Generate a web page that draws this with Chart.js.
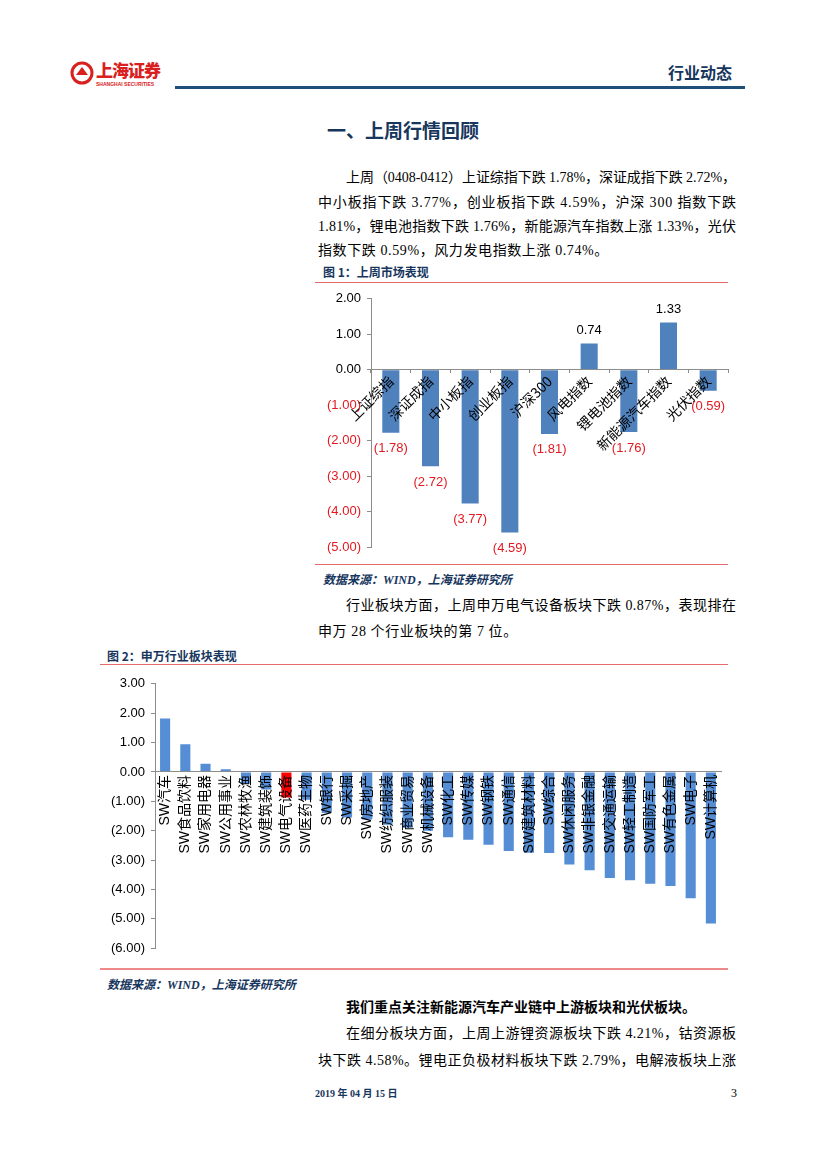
<!DOCTYPE html>
<html>
<head>
<meta charset="utf-8">
<script src="https://cdn.jsdelivr.net/npm/chart.js@4.4.0/dist/chart.umd.min.js"></script>
<style>
  html,body{margin:0;padding:0;background:#fff;}
  body{width:827px;height:1169px;position:relative;overflow:hidden;font-family:"Liberation Serif","Noto Sans CJK SC",serif;color:#000;}
  .abs{position:absolute;white-space:nowrap;}
  .line{position:absolute;font-size:14px;line-height:20px;height:20px;white-space:nowrap;}
  .navy{color:#17365D;}
  .rule{position:absolute;height:1px;background:#E46C6C;}
  .ctitle{position:absolute;font-family:"Noto Sans CJK SC";font-weight:bold;font-size:12px;color:#17365D;line-height:14px;}
  .src{position:absolute;font-family:"Liberation Serif","Noto Sans CJK SC";font-weight:bold;font-style:italic;font-size:12px;color:#17365D;line-height:14px;}
  canvas{position:absolute;}
</style>
</head>
<body>
<!-- header -->
<svg class="abs" style="left:70px;top:61px" width="24" height="24" viewBox="0 0 24 24">
  <circle cx="12" cy="12" r="10" fill="none" stroke="#D9201E" stroke-width="3"/>
  <path d="M6 14 L12 6 L18 14 Z" fill="#D9201E"/>
</svg>
<div class="abs" style="left:96px;top:60px;font-family:'Noto Sans CJK SC';font-weight:900;font-size:17px;color:#D9201E;letter-spacing:-1px;line-height:20px;">上海证券</div>
<div class="abs" style="left:96px;top:81px;font-family:'Liberation Sans';font-weight:bold;font-size:5px;color:#D9201E;line-height:6px;">SHANGHAI SECURITIES</div>
<div class="abs" style="left:668px;top:61px;font-family:'Noto Sans CJK SC';font-weight:bold;font-size:16px;color:#17365D;line-height:22px;">行业动态</div>
<div class="abs" style="left:175px;top:86px;width:570px;height:3px;background:#1F4E79;"></div>

<div class="abs navy" style="left:327px;top:117px;font-family:'Noto Sans CJK SC';font-weight:bold;font-size:19px;line-height:26px;">一、上周行情回顾</div>

<div class="line jl" data-w="390" style="left:346px;top:168px;">上周（0408-0412）上证综指下跌 1.78%，深证成指下跌 2.72%，</div>
<div class="line jl" data-w="418" style="left:318px;top:193px;">中小板指下跌 3.77%，创业板指下跌 4.59%，沪深 300 指数下跌</div>
<div class="line jl" data-w="418" style="left:318px;top:217px;">1.81%，锂电池指数下跌 1.76%，新能源汽车指数上涨 1.33%，光伏</div>
<div class="line" style="left:318px;top:241px;letter-spacing:0.6px;">指数下跌 0.59%，风力发电指数上涨 0.74%。</div>

<div class="ctitle" style="left:323px;top:265px;">图 1：上周市场表现</div>
<div class="rule" style="left:315px;top:282px;width:413px;"></div>
<canvas id="c1" width="420" height="276" style="left:315px;top:285px;"></canvas>
<div class="rule" style="left:315px;top:564px;width:413px;"></div>
<div class="src" style="left:323px;top:573px;">数据来源：WIND，上海证券研究所</div>

<div class="line jl" data-w="390" style="left:346px;top:596px;">行业板块方面，上周申万电气设备板块下跌 0.87%，表现排在</div>
<div class="line" style="left:318px;top:622px;letter-spacing:0.6px;">申万 28 个行业板块的第 7 位。</div>

<div class="ctitle" style="left:107px;top:649px;">图 2：申万行业板块表现</div>
<div class="rule" style="left:100px;top:664px;width:628px;"></div>
<canvas id="c2" width="628" height="292" style="left:100px;top:670px;"></canvas>
<div class="rule" style="left:100px;top:968px;width:628px;height:2px;background:#EE8A8A;"></div>
<div class="src" style="left:107px;top:978px;">数据来源：WIND，上海证券研究所</div>

<div class="line" style="left:346px;top:996px;font-family:'Noto Sans CJK SC';font-weight:bold;font-size:14px;">我们重点关注新能源汽车产业链中上游板块和光伏板块。</div>
<div class="line jl" data-w="390" style="left:346px;top:1024px;">在细分板块方面，上周上游锂资源板块下跌 4.21%，钴资源板</div>
<div class="line jl" data-w="418" style="left:318px;top:1051px;">块下跌 4.58%。锂电正负极材料板块下跌 2.79%，电解液板块上涨</div>

<div class="abs" style="left:315px;top:1088px;font-family:'Liberation Serif','Noto Sans CJK SC';font-weight:bold;font-size:10px;color:#17365D;line-height:12px;">2019 年 04 月 15 日</div>
<div class="abs" style="left:731px;top:1086px;font-family:'Liberation Serif';font-size:12px;line-height:14px;">3</div>

<script>
// ---------- data ----------
const marketCategories = ['上证综指','深证成指','中小板指','创业板指','沪深300','风电指数','锂电池指数','新能源汽车指数','光伏指数'];
const marketValues = [-1.78, -2.72, -3.77, -4.59, -1.81, 0.74, -1.76, 1.33, -0.59];

const industryCategories = ['SW汽车','SW食品饮料','SW家用电器','SW公用事业','SW农林牧渔','SW建筑装饰','SW电气设备','SW医药生物','SW银行','SW采掘','SW房地产','SW纺织服装','SW商业贸易','SW机械设备','SW化工','SW传媒','SW钢铁','SW通信','SW建筑材料','SW综合','SW休闲服务','SW非银金融','SW交通运输','SW轻工制造','SW国防军工','SW有色金属','SW电子','SW计算机'];
const industryValues = [1.82, 0.94, 0.28, 0.09, -0.40, -0.60, -0.87, -0.95, -1.40, -1.55, -1.62, -1.80, -1.90, -2.00, -2.22, -2.31, -2.48, -2.69, -2.75, -2.76, -3.15, -3.35, -3.61, -3.69, -3.81, -3.88, -4.30, -5.16];
const highlightCategory = 'SW电气设备';

const marketTicks = {min: -5, max: 2, step: 1};
const industryTicks = {min: -6, max: 3, step: 1};

// ---------- manual justification of body text lines ----------
document.querySelectorAll('.jl').forEach(el => {
  const target = +el.dataset.w;
  const natural = el.getBoundingClientRect().width;
  const n = [...el.textContent].length;
  if (n > 1) el.style.letterSpacing = ((target - natural) / (n - 1)) + 'px';
});

// ---------- helpers ----------
const RED = '#E3191F';
const fmt = v => v < 0 ? '(' + Math.abs(v).toFixed(2) + ')' : v.toFixed(2);
Chart.defaults.font.family = '"Liberation Sans","Noto Sans CJK SC",sans-serif';
Chart.defaults.color = '#000';
Chart.defaults.animation = false;

const valueLabels = {
  id: 'valueLabels',
  afterDatasetsDraw(chart, args, opts) {
    if (!opts || !opts.enabled) return;
    const ctx = chart.ctx;
    const meta = chart.getDatasetMeta(0);
    const data = chart.data.datasets[0].data;
    ctx.save();
    ctx.font = '13px "Liberation Sans"';
    ctx.textAlign = 'center';
    ctx.textBaseline = 'middle';
    meta.data.forEach((bar, i) => {
      const v = data[i];
      ctx.fillStyle = v < 0 ? RED : '#000';
      ctx.fillText(fmt(v), bar.x, v < 0 ? bar.y + 16 : bar.y - 13);
    });
    ctx.restore();
  }
};

function yAxis(t, width, colorFn, pad) {
  return {
    min: t.min, max: t.max,
    afterFit: s => { s.width = width; },
    ticks: { stepSize: t.step, callback: v => fmt(v), color: colorFn, font: {size: 13}, padding: pad },
    grid: { display: true, drawOnChartArea: false, drawTicks: true, tickLength: 4, color: '#8C8C8C' },
    border: { display: true, color: '#8C8C8C', width: 1 }
  };
}

// ---------- chart 1 ----------
new Chart(document.getElementById('c1'), {
  type: 'bar',
  data: {
    labels: marketCategories,
    datasets: [{ data: marketValues, backgroundColor: '#4F81BD', barPercentage: 1, categoryPercentage: 0.43 }]
  },
  options: {
    responsive: false,
    layout: { padding: { top: 12, right: 7, bottom: 14, left: 0 } },
    plugins: { legend: {display: false}, tooltip: {enabled: false}, valueLabels: {enabled: true} },
    scales: {
      x: {
        position: {y: 0},
        ticks: { z: 2, minRotation: 45, maxRotation: 45, autoSkip: false, font: {size: 14, family: '"Noto Sans CJK SC","Liberation Sans"'}, padding: 0 },
        grid: { display: true, drawOnChartArea: false, drawTicks: true, tickLength: 3, color: '#8C8C8C' },
        border: { display: true, color: '#8C8C8C', z: 1 }
      },
      y: yAxis(marketTicks, 56, c => c.tick.value < 0 ? RED : '#000', 6)
    }
  },
  plugins: [valueLabels]
});

// ---------- chart 2 ----------
new Chart(document.getElementById('c2'), {
  type: 'bar',
  data: {
    labels: industryCategories,
    datasets: [{
      data: industryValues,
      backgroundColor: industryCategories.map(c => c === highlightCategory ? '#FF0000' : '#558ED5'),
      barPercentage: 1, categoryPercentage: 0.5
    }]
  },
  options: {
    responsive: false,
    layout: { padding: { top: 13, right: 7, bottom: 13, left: 0 } },
    plugins: { legend: {display: false}, tooltip: {enabled: false} },
    scales: {
      x: {
        position: {y: 0},
        ticks: { z: 2, minRotation: 90, maxRotation: 90, autoSkip: false, font: {size: 14, family: '"Liberation Sans","Noto Sans CJK SC"'}, padding: 0 },
        grid: { display: false, drawOnChartArea: false, drawTicks: true, tickLength: 3 },
        border: { display: true, color: '#8C8C8C', z: 1 }
      },
      y: yAxis(industryTicks, 55, '#000', 6)
    }
  }
});
</script>
</body>
</html>
